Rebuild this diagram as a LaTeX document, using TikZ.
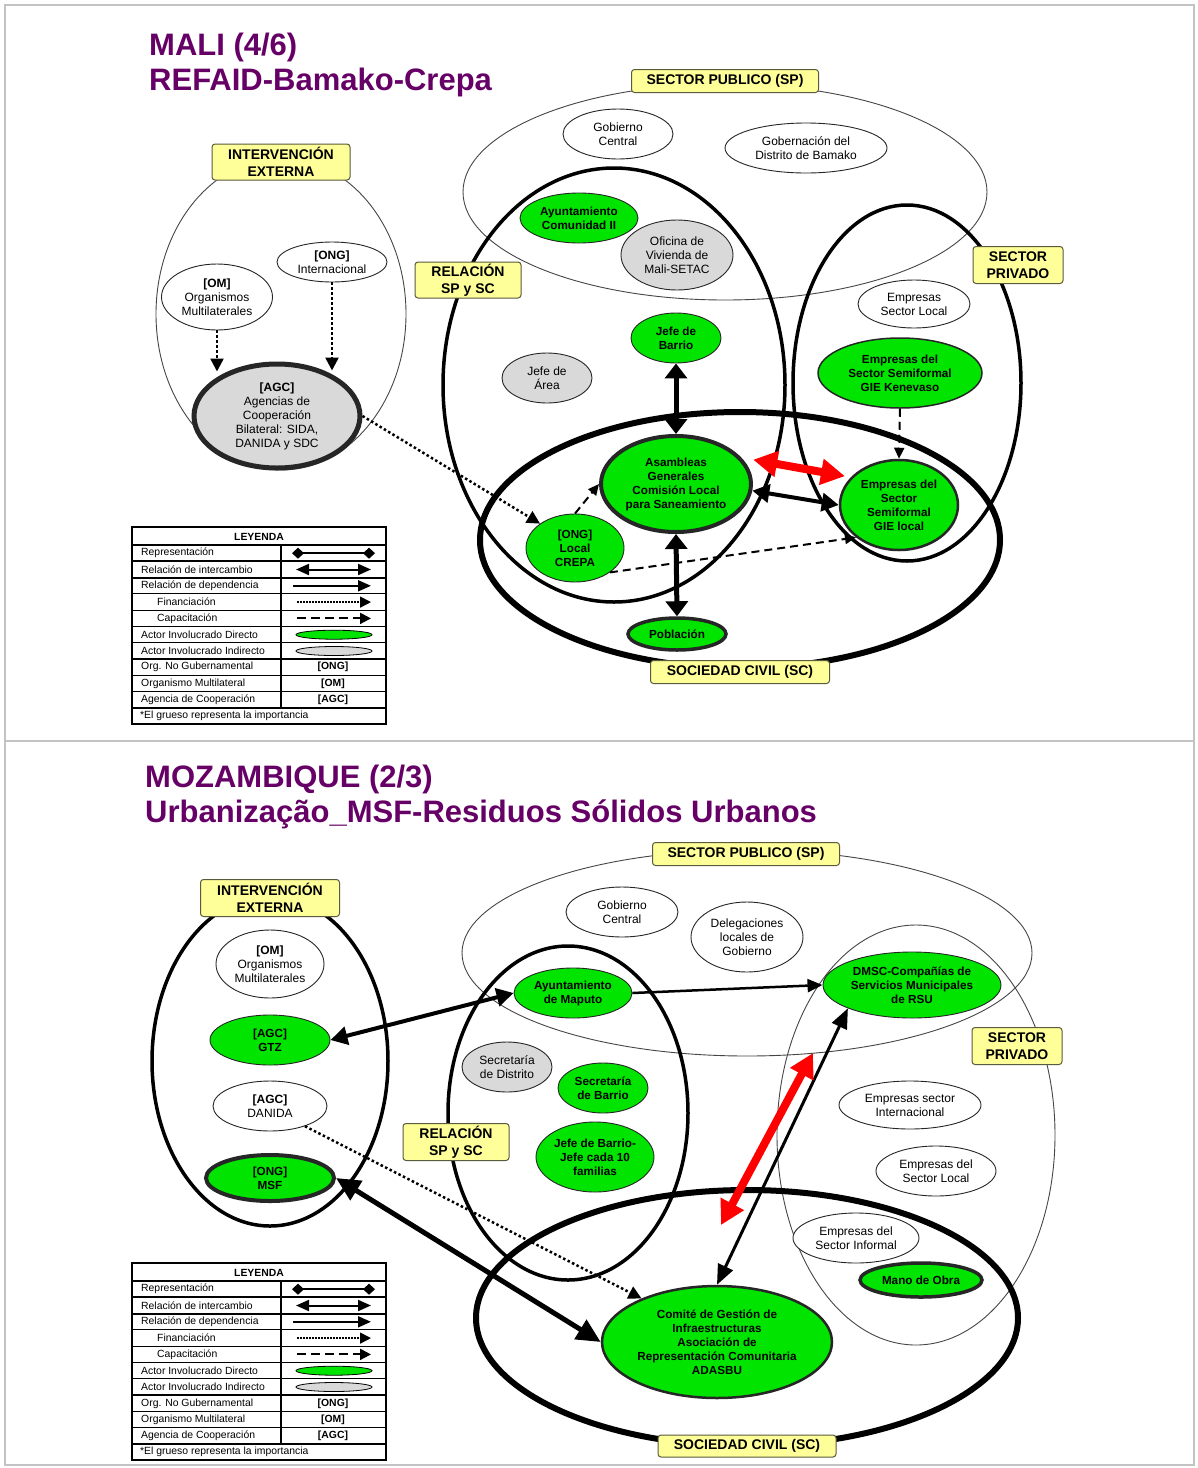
\documentclass[tikz,border=0pt]{standalone}
\usepackage{fontspec}
\setmainfont{Liberation Sans}
\usetikzlibrary{arrows.meta,shapes.geometric,calc}
\definecolor{actgreen}{RGB}{0,228,0}
\definecolor{actgray}{RGB}{217,217,217}
\definecolor{labyellow}{RGB}{255,255,153}
\definecolor{labborder}{RGB}{90,90,60}
\definecolor{titlepurple}{RGB}{102,0,102}
\definecolor{thinline}{RGB}{70,70,70}
\definecolor{framegray}{RGB}{195,195,195}
\tikzset{
  sz/.style 2 args={minimum width=#1pt, minimum height=#2pt},
  actor/.style={ellipse, draw=black!85, line width=0.9pt, fill=white, inner sep=0pt, align=center, font=\fontsize{12}{14}\selectfont},
  diractor/.style={actor, fill=actgreen, font=\bfseries\fontsize{11.7}{14}\selectfont},
  indactor/.style={actor, fill=actgray},
  region/.style={ellipse, draw, inner sep=0pt},
  thinregion/.style={region, draw=thinline, line width=0.9pt},
  thickregion/.style={region, draw=black, line width=3.5pt},
  scregion/.style={region, draw=black, line width=6pt},
  lab/.style={rectangle, rounded corners=3pt, draw=labborder, fill=labyellow, line width=1pt, inner sep=0pt, align=center, font=\bfseries\fontsize{14}{16.5}\selectfont},
  ttl/.style={anchor=base west, text=titlepurple, font=\bfseries\fontsize{31}{36}\selectfont, inner sep=0pt},
  finan/.style={line width=2.5pt, dash pattern=on 2.5pt off 2.5pt, -{Triangle[length=13pt,width=13pt]}},
  capac/.style={line width=2pt, dash pattern=on 8pt off 5pt, -{Triangle[length=11pt,width=10pt]}},
  xchgv/.style={line width=5pt, {Triangle[length=15pt,width=22pt]}-{Triangle[length=15pt,width=22pt]}},
  xchgh/.style={line width=4pt, {Triangle[length=17pt,width=18pt]}-{Triangle[length=17pt,width=18pt]}},
  xchgb/.style={line width=5pt, {Triangle[length=24pt,width=22pt]}-{Triangle[length=24pt,width=22pt]}},
  xchgt/.style={line width=3pt, {Triangle[length=20pt,width=16pt]}-{Triangle[length=20pt,width=16pt]}},
  depend/.style={line width=2.5pt, -{Triangle[length=15pt,width=13pt]}},
  redx/.style={line width=8pt, red, {Triangle[length=24pt,width=25pt]}-{Triangle[length=24pt,width=25pt]}},
  legtxt/.style={anchor=west, inner sep=0pt, font=\fontsize{10.4}{12}\selectfont},
  legb/.style={inner sep=0pt, font=\bfseries\fontsize{10.4}{12}\selectfont},
  legell/.style={ellipse, draw, line width=0.8pt, minimum width=76pt, minimum height=9pt, inner sep=0pt}
}
\newcommand{\drawlegend}[2]{%
\begin{scope}[shift={(0,#2)}]
\fill[white] (132,527) rectangle (386,724);
\draw[line width=1.8pt] (132,527) rectangle (386,724);
\node[legb] (#1h) at (259,536.5) {LEYENDA};
\draw[line width=1.8pt] (132,545) -- (386,545);
\draw[line width=1.8pt] (132,561.3) -- (386,561.3);
\draw[line width=1.8pt] (132,577.6) -- (386,577.6);
\draw[line width=0.9pt] (132,593.9) -- (386,593.9);
\draw[line width=0.9pt] (132,610.2) -- (386,610.2);
\draw[line width=1.8pt] (132,626.5) -- (386,626.5);
\draw[line width=0.9pt] (132,642.8) -- (386,642.8);
\draw[line width=1.8pt] (132,659.1) -- (386,659.1);
\draw[line width=0.9pt] (132,675.4) -- (386,675.4);
\draw[line width=0.9pt] (132,691.7) -- (386,691.7);
\draw[line width=1.8pt] (132,708) -- (386,708);
\draw[line width=1.2pt] (281,545) -- (281,708);
\node[legtxt] (#1l1) at (141,553.2) {Representación};
\node[legtxt] (#1l2) at (141,569.5) {Relación de intercambio};
\node[legtxt] (#1l3) at (141,585.8) {Relación de dependencia};
\node[legtxt] (#1l4) at (157,602.1) {Financiación};
\node[legtxt] (#1l5) at (157,618.4) {Capacitación};
\node[legtxt] (#1l6) at (141,634.7) {Actor Involucrado Directo};
\node[legtxt] (#1l7) at (141,651.0) {Actor Involucrado Indirecto};
\node[legtxt] (#1l8) at (141,667.3) {Org. No Gubernamental};
\node[legtxt] (#1l9) at (141,683.6) {Organismo Multilateral};
\node[legtxt] (#1l10) at (141,699.9) {Agencia de Cooperación};
\node[legtxt] (#1l11) at (140,716.2) {*El grueso representa la importancia};
\coordinate (#1a1) at (292,553.2); \coordinate (#1b1) at (375,553.2);
\draw[line width=1.5pt, {Diamond[length=12pt,width=11pt]}-{Diamond[length=12pt,width=11pt]}] (#1a1) -- (#1b1);
\coordinate (#1a2) at (296,569.5); \coordinate (#1b2) at (371,569.5);
\draw[line width=2pt, {Triangle[length=13pt,width=11pt]}-{Triangle[length=13pt,width=11pt]}] (#1a2) -- (#1b2);
\coordinate (#1a3) at (293,585.8); \coordinate (#1b3) at (371,585.8);
\draw[line width=2pt, -{Triangle[length=13pt,width=11pt]}] (#1a3) -- (#1b3);
\coordinate (#1a4) at (297,602.1); \coordinate (#1b4) at (371,602.1);
\draw[line width=1.5pt, dash pattern=on 1.5pt off 1.5pt, -{Triangle[length=11pt,width=11pt]}] (#1a4) -- (#1b4);
\coordinate (#1a5) at (297,618.4); \coordinate (#1b5) at (371,618.4);
\draw[line width=2pt, dash pattern=on 9pt off 5pt, -{Triangle[length=11pt,width=11pt]}] (#1a5) -- (#1b5);
\node[legell, fill=actgreen] (#1g) at (334,634.7) {};
\node[legell, fill=actgray] (#1k) at (334,651.0) {};
\node[legb] (#1o1) at (333,667.3) {[ONG]};
\node[legb] (#1o2) at (333,683.6) {[OM]};
\node[legb] (#1o3) at (333,699.9) {[AGC]};
\end{scope}}

\begin{document}
\begin{tikzpicture}[x=1pt,y=-1pt]
\useasboundingbox (0,0) rectangle (1198,1468);
\fill[white] (0,0) rectangle (1198,1468);
\draw[framegray, line width=1.2pt] (5,5) rectangle (1194,1465);
\draw[framegray, line width=1.2pt] (5,741) -- (1194,741);

% ================= TOP PANEL =================
\node[ttl] (t1a) at (149,55) {MALI (4/6)};
\node[ttl] (t1b) at (149,90) {REFAID-Bamako-Crepa};

\node[thinregion, sz={250}{312}] (ie1) at (281,314) {};
\node[thinregion, sz={524}{216}] (sp1) at (725,192) {};
\node[thickregion, sz={342}{434}] (rel1) at (614,385) {};
\node[thickregion, sz={228}{356}] (pr1) at (907,383) {};
\node[scregion, sz={520}{256}] (sc1) at (740,540) {};

\node[actor, sz={110}{50}] (gc1) at (618,134) {Gobierno\\Central};
\node[actor, sz={162}{50}] (gob1) at (806,148) {Gobernación del\\Distrito de Bamako};
\node[diractor, sz={118}{50}] (ayu1) at (579,218) {Ayuntamiento\\Comunidad II};
\node[indactor, sz={112}{70}] (ofi1) at (677,255) {Oficina de\\Vivienda de\\Mali-SETAC};
\node[diractor, sz={90}{50}] (jb1) at (676,338) {Jefe de\\Barrio};
\node[indactor, sz={90}{50}] (ja1) at (547,378) {Jefe de\\Área};
\node[actor, sz={112}{48}] (esl1) at (914,304) {Empresas\\Sector Local};
\node[diractor, sz={164}{70}, line width=1.5pt] (ken1) at (900,373) {Empresas del\\Sector Semiformal\\GIE Kenevaso};
\node[diractor, sz={118}{90}, line width=2.5pt] (gie1) at (899,505) {Empresas del\\Sector\\Semiformal\\GIE local};
\node[diractor, sz={150}{96}, line width=4pt] (asa1) at (676,484) {Asambleas\\Generales\\Comisión Local\\para Saneamiento};
\node[diractor, sz={98}{68}] (crepa1) at (575,548) {[ONG]\\Local\\CREPA};
\node[diractor, sz={98}{32}, line width=3.5pt] (pob1) at (677,634) {Población};
\node[actor, sz={111}{66}] (om1) at (217,297) {\textbf{[OM]}\\Organismos\\Multilaterales};
\node[actor, sz={110}{40}] (ong1) at (332,262) {\textbf{[ONG]}\\Internacional};
\node[indactor, sz={166}{104}, line width=5pt] (agc1) at (277,416) {\textbf{[AGC]}\\Agencias de\\Cooperación\\Bilateral: SIDA,\\DANIDA y SDC};

\draw[finan] (om1.south) -- ($(om1.south |- agc1.north)+(0,10)$);
\draw[finan] (ong1.south) -- ($(ong1.south |- agc1.north)+(0,9)$);
\draw[finan] (agc1.east) -- (crepa1.north west);
\draw[xchgv] (jb1.south) -- (asa1.north);
\draw[xchgv] (asa1.south) -- (pob1.north);
\draw[capac] (crepa1.north) -- (asa1.west);
\draw[capac] (crepa1.-35) -- (gie1.217);
\draw[capac] (ken1.south) -- (gie1.north);
\draw[xchgh] (asa1.-5) -- (gie1.west);
\draw[redx, shorten <=12pt, shorten >=6pt] (asa1.22) -- (gie1.150);

\node[lab, sz={187}{23}] (Lsp1) at (725,81) {SECTOR PUBLICO (SP)};
\node[lab, sz={138}{36}] (Lie1) at (281,162) {INTERVENCIÓN\\EXTERNA};
\node[lab, sz={106}{36}] (Lrel1) at (468,280) {RELACIÓN\\SP y SC};
\node[lab, sz={90}{37}] (Lpr1) at (1018,265) {SECTOR\\PRIVADO};
\node[lab, sz={179}{23}] (Lsc1) at (740,672) {SOCIEDAD CIVIL (SC)};

\drawlegend{la}{0}

% ================= BOTTOM PANEL =================
\node[ttl] (t2a) at (145,787) {MOZAMBIQUE (2/3)};
\node[ttl] (t2b) at (145,822) {Urbanização\_MSF-Residuos Sólidos Urbanos};

\node[thinregion, sz={570}{206}] (sp2) at (747,953) {};
\node[thinregion, sz={278}{420}] (pr2) at (916,1135) {};
\node[thickregion, sz={236}{330}] (ie2) at (270,1061) {};
\node[thickregion, sz={240}{334}] (rel2) at (568,1113) {};
\node[scregion, sz={542}{256}] (sc2) at (747,1318) {};

\node[actor, sz={108}{68}] (om2) at (270,964) {\textbf{[OM]}\\Organismos\\Multilaterales};
\node[diractor, sz={120}{50}] (gtz2) at (270,1040) {[AGC]\\GTZ};
\node[actor, sz={114}{50}] (dan2) at (270,1106) {\textbf{[AGC]}\\DANIDA};
\node[diractor, sz={128}{46}, line width=4pt] (msf2) at (270,1178) {[ONG]\\MSF};
\node[actor, sz={112}{50}] (gc2) at (622,912) {Gobierno\\Central};
\node[actor, sz={112}{70}] (del2) at (747,937) {Delegaciones\\locales de\\Gobierno};
\node[diractor, sz={118}{50}] (ayu2) at (573,993) {Ayuntamiento\\de Maputo};
\node[indactor, sz={90}{50}] (sd2) at (507,1067) {Secretaría\\de Distrito};
\node[diractor, sz={90}{50}] (sb2) at (603,1088) {Secretaría\\de Barrio};
\node[diractor, sz={118}{70}] (jb2) at (595,1157) {Jefe de Barrio-\\Jefe cada 10\\familias};
\node[diractor, sz={178}{66}] (dmsc2) at (912,985) {DMSC-Compañías de\\Servicios Municipales\\de RSU};
\node[actor, sz={142}{48}] (esi2) at (910,1105) {Empresas sector\\Internacional};
\node[actor, sz={120}{50}] (esl2) at (936,1171) {Empresas del\\Sector Local};
\node[actor, sz={126}{50}] (esf2) at (856,1238) {Empresas del\\Sector Informal};
\node[diractor, sz={122}{34}, line width=3.5pt] (mano2) at (921,1280) {Mano de Obra};
\node[diractor, sz={230}{112}, line width=2.5pt] (com2) at (717,1342) {Comité de Gestión de\\Infraestructuras\\Asociación de\\Representación Comunitaria\\ADASBU};

\draw[xchgh] (gtz2.east) -- (ayu2.west);
\draw[depend] (ayu2.east) -- (dmsc2.west);
\draw[xchgt] (com2.north) -- (dmsc2.200);
\coordinate (r2a) at (721,1225);
\coordinate (r2b) at (813,1053);
\draw[redx] (r2a) -- (r2b);
\draw[finan] (dan2.-30) -- (com2.150);
\draw[xchgb] (msf2.east) -- (com2.west);

\node[lab, sz={139}{37}] (Lie2) at (270,898) {INTERVENCIÓN\\EXTERNA};
\node[lab, sz={187}{23}] (Lsp2) at (746,854) {SECTOR PUBLICO (SP)};
\node[lab, sz={106}{37}] (Lrel2) at (456,1142) {RELACIÓN\\SP y SC};
\node[lab, sz={90}{37}] (Lpr2) at (1017,1046) {SECTOR\\PRIVADO};
\node[lab, sz={178}{22}] (Lsc2) at (747,1446) {SOCIEDAD CIVIL (SC)};

\drawlegend{lb}{736}
\end{tikzpicture}
\end{document}
